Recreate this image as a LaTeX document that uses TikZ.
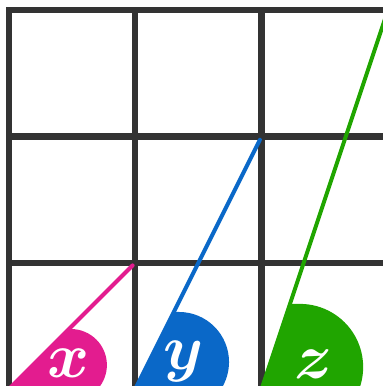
\documentclass[tikz,border=0pt]{standalone}
\usepackage{tikz}
\usetikzlibrary{positioning,calc}
\definecolor{rosa}{RGB}{227,28,143}
\definecolor{azul}{RGB}{10,104,200}
\definecolor{verde}{RGB}{32,165,0}
\definecolor{gris}{RGB}{51,51,51}

\begin{document}
\begin{tikzpicture}[
        rejilla/.style={draw=gris, line width=1.42pt, line cap=rect},
        recta/.style={line width=0.9pt, line cap=round, shorten >=0.03cm},
        etiqueta/.style={text=white, inner sep=0pt, font=\fontsize{13.5}{16}\selectfont\boldmath}
    ]
        \useasboundingbox (-0.0713,0.024) rectangle (2.961,3.080);
        \clip (-0.0713,0.024) rectangle (2.961,3.080);

        \draw[rejilla] (0,0) grid (3,3);

        \coordinate (o1) at (0,0);
        \coordinate (e1) at (1,1);
        \coordinate (o2) at (1,0);
        \coordinate (e2) at (2,2);
        \coordinate (o3) at (2,0);
        \coordinate (e3) at (3,3);

        \coordinate (p1) at ($(o1)!.475!(e1)$);
        \coordinate (p2) at ($(o2)!.305!(e2)$);
        \coordinate (p3) at ($(o3)!.2247!(e3)$);

        \fill[rosa] (o1) -- (p1) -- (0.49,0.475) arc[start angle=90, end angle=-42, radius=0.285] -- cycle;
        \fill[azul] (o2) -- (p2) -- (1.346,0.61) arc[start angle=90, end angle=-33, radius=0.396] -- cycle;
        \fill[verde] (o3) -- (p3) -- (2.304,0.674) arc[start angle=90, end angle=-21, radius=0.5] -- cycle;

        \draw[recta, rosa] (o1) -- (e1);
        \draw[recta, azul] (o2) -- (e2);
        \draw[recta, verde] (o3) -- (e3);

        \node[etiqueta] (lx) at (0.475,0.2) {$x$};
        \node[etiqueta] (ly) at (1.385,0.218) {$y$};
        \node[etiqueta] (lz) at (2.415,0.198) {$z$};
    \end{tikzpicture}
\end{document}
